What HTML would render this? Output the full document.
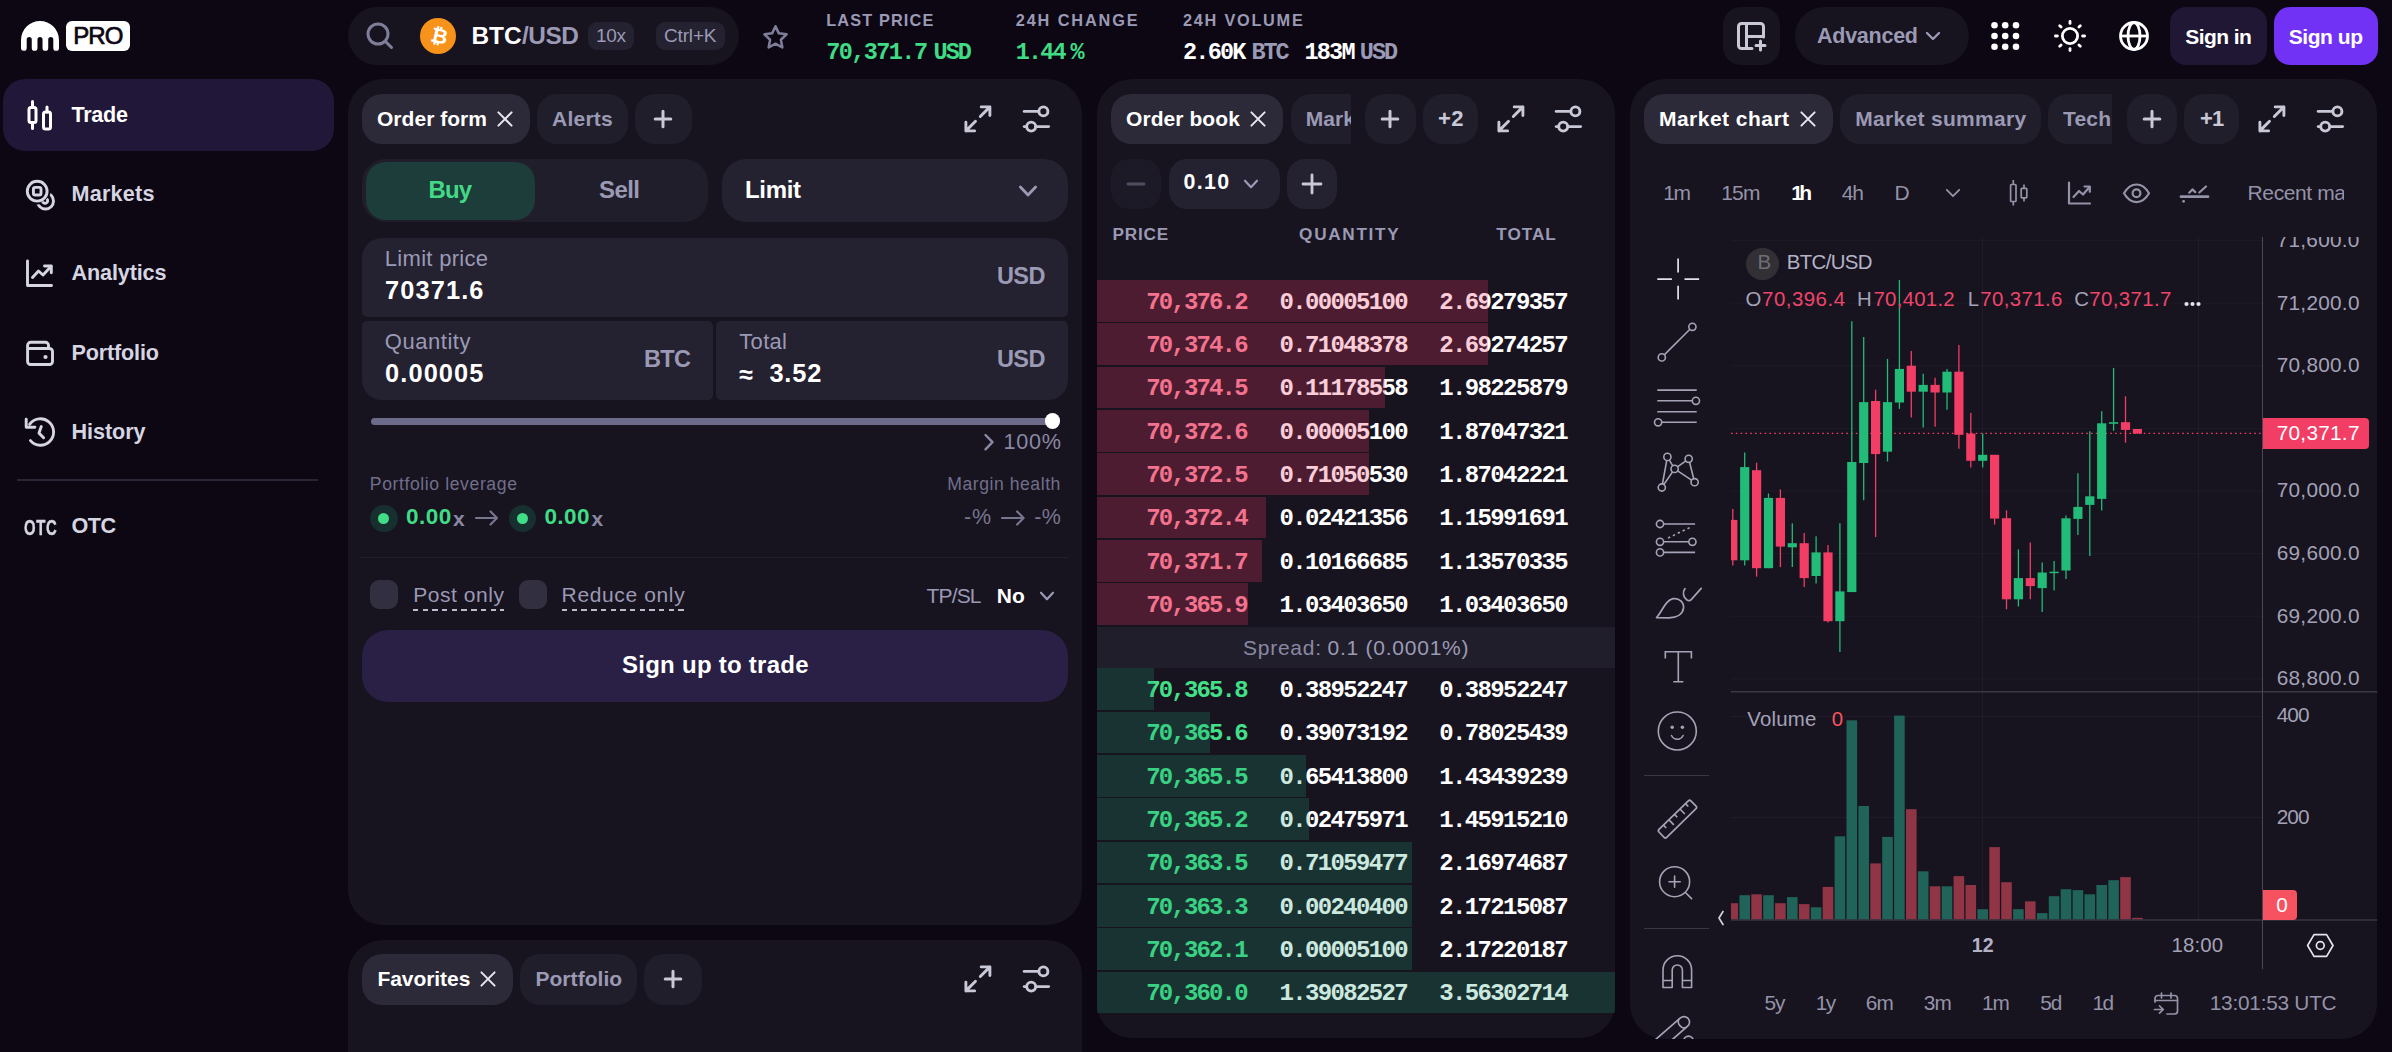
<!DOCTYPE html>
<html lang="en"><head><meta charset="utf-8"><title>Kraken Pro - BTC/USD</title><style>html,body{margin:0;padding:0;background:#0d0714;}
body{width:2392px;height:1052px;overflow:hidden;position:relative;font-family:"Liberation Sans",sans-serif;}
.t{position:absolute;white-space:pre;display:block;}
.b{position:absolute;display:block;}
</style></head><body>
<svg class="b" style="left:21.0px;top:21.0px;" width="38.0" height="30.0" viewBox="0 0 38 30" fill="none"><path d="M0 19A19 19 0 0 1 38 19V26.95a2.85 2.85 0 0 1 -5.70 0V18.43a2.53 2.53 0 0 0 -5.07 0V26.95a2.85 2.85 0 0 1 -5.70 0V18.43a2.53 2.53 0 0 0 -5.07 0V26.95a2.85 2.85 0 0 1 -5.70 0V18.43a2.53 2.53 0 0 0 -5.07 0V26.95a2.85 2.85 0 0 1 -5.70 0Z" fill="#fff"/></svg>
<div class="b" style="left:65.7px;top:21.0px;width:64.3px;height:29.7px;background:#fff;border-radius:6px;"></div>
<span class="t" style="left:73.3px;top:24.1px;font:400 24.00px/24.00px 'Liberation Sans',sans-serif;letter-spacing:-1.00px;color:#0d0714;-webkit-text-stroke:.7px #0d0714;">PRO</span>
<div class="b" style="left:3.0px;top:79.0px;width:330.5px;height:71.5px;background:#211738;border-radius:22px;"></div>
<span class="t" style="left:71.5px;top:104.3px;font:700 21.60px/21.60px 'Liberation Sans',sans-serif;letter-spacing:-0.28px;color:#fff;">Trade</span>
<span class="t" style="left:71.5px;top:183.3px;font:700 21.60px/21.60px 'Liberation Sans',sans-serif;letter-spacing:0.23px;color:#d6d5e2;">Markets</span>
<span class="t" style="left:71.5px;top:262.3px;font:700 21.60px/21.60px 'Liberation Sans',sans-serif;letter-spacing:-0.13px;color:#d6d5e2;">Analytics</span>
<span class="t" style="left:71.5px;top:342.3px;font:700 21.60px/21.60px 'Liberation Sans',sans-serif;letter-spacing:-0.16px;color:#d6d5e2;">Portfolio</span>
<span class="t" style="left:71.5px;top:421.3px;font:700 21.60px/21.60px 'Liberation Sans',sans-serif;letter-spacing:-0.07px;color:#d6d5e2;">History</span>
<span class="t" style="left:71.5px;top:515.3px;font:700 21.60px/21.60px 'Liberation Sans',sans-serif;letter-spacing:-0.55px;color:#d6d5e2;">OTC</span>
<div class="b" style="left:17.0px;top:479.0px;width:301.0px;height:1.5px;background:#2a2436;border-radius:0px;"></div>
<svg class="b" style="left:24.0px;top:96.0px;" width="32.0" height="38.0" viewBox="0 0 32 38" fill="none"><g stroke="#fff" stroke-width="3" stroke-linecap="round" stroke-linejoin="round">
<path d="M8.5 5.5v6M8.5 26.5v6"/><rect x="5" y="11.5" width="7" height="15" rx="2"/>
<path d="M23 11v5"/><rect x="19.5" y="16" width="7" height="17" rx="2"/></g></svg>
<svg class="b" style="left:24.0px;top:178.0px;" width="34.0" height="34.0" viewBox="0 0 34 34" fill="none"><defs><mask id="mk1"><rect width="34" height="34" fill="#fff"/><circle cx="13.2" cy="13.2" r="13.300" fill="#000"/></mask></defs>
<g stroke="#d6d5e2" stroke-width="2.900"><circle cx="13.2" cy="13.2" r="9.900"/><rect x="9.4" y="9.4" width="7.6" height="7.600" rx="1.800"/>
<g mask="url(#mk1)"><circle cx="21.500" cy="23" r="8"/></g><path d="M22.800 20.800a2.600 2.600 0 1 1-4.200 2.800"/></g></svg>
<svg class="b" style="left:24.0px;top:258.0px;" width="32.0" height="32.0" viewBox="0 0 32 32" fill="none"><g stroke="#d6d5e2" stroke-width="2.900" stroke-linecap="round" stroke-linejoin="round">
<path d="M3.500 3v24.500h24"/><path d="M8.500 19.500l6-6.500 4.500 4 8-8.500"/><path d="M20.500 8h6.800v6.800"/></g></svg>
<svg class="b" style="left:24.0px;top:337.0px;" width="32.0" height="32.0" viewBox="0 0 32 32" fill="none"><g stroke="#d6d5e2" stroke-width="2.900" stroke-linecap="round" stroke-linejoin="round">
<path d="M3.600 11.500H25.500a3 3 0 0 1 3 3V24.500a3 3 0 0 1-3 3H6.600a3 3 0 0 1-3-3V8.300a3 3 0 0 1 3-3H21.500a3 3 0 0 1 3 3V11.500"/></g><circle cx="21.500" cy="20" r="2.100" fill="#d6d5e2"/></svg>
<svg class="b" style="left:24.0px;top:416.0px;" width="32.0" height="32.0" viewBox="0 0 32 32" fill="none"><g stroke="#d6d5e2" stroke-width="2.900" stroke-linecap="round" stroke-linejoin="round">
<path d="M5.590 8.430A13.200 13.200 0 1 1 6.440 24.660"/><path d="M2.200 3.200V11.200H10.900"/><path d="M17.300 10.500L15 17.100l4.600 4.600"/></g></svg>
<span class="t" style="left:23.8px;top:516.8px;font:700 22.20px/22.20px 'Liberation Sans',sans-serif;letter-spacing:0.00px;color:#d6d5e2;transform:scaleX(.67);transform-origin:0 0;letter-spacing:1px;-webkit-text-stroke:.5px #d6d5e2;">OTC</span>
<div class="b" style="left:348.0px;top:7.0px;width:390.5px;height:58.0px;background:#17131f;border-radius:29px;"></div>
<svg class="b" style="left:365.0px;top:21.0px;" width="30.0" height="30.0" viewBox="0 0 30 30" fill="none"><g stroke="#7f7e99" stroke-width="3" stroke-linecap="round"><circle cx="13" cy="13" r="10"/><path d="M20.5 20.5l6 6"/></g></svg>
<div class="b" style="left:420.0px;top:18.0px;width:36.0px;height:36.0px;background:#f7931a;border-radius:50%;"></div>
<span class="t" style="left:431.3px;top:26.2px;font:700 20.50px/20.50px 'DejaVu Sans',sans-serif;letter-spacing:0.00px;color:#fff;transform:rotate(13deg);">₿</span>
<span class="t" style="left:471.5px;top:23.8px;font:700 24.40px/24.40px 'Liberation Sans',sans-serif;letter-spacing:0.00px;color:#fff;">BTC</span>
<span class="t" style="left:521.9px;top:23.8px;font:700 24.40px/24.40px 'Liberation Sans',sans-serif;letter-spacing:-0.41px;color:#9b9ab5;">/USD</span>
<div class="b" style="left:588.0px;top:22.0px;width:46.0px;height:28.0px;background:#242130;border-radius:9px;"></div>
<span class="t" style="left:596.0px;top:26.2px;font:400 19.00px/19.00px 'Liberation Sans',sans-serif;letter-spacing:-0.32px;color:#9b9ab5;">10x</span>
<div class="b" style="left:656.0px;top:22.0px;width:68.5px;height:28.0px;background:#242130;border-radius:9px;"></div>
<span class="t" style="left:664.0px;top:26.2px;font:400 19.00px/19.00px 'Liberation Sans',sans-serif;letter-spacing:-0.16px;color:#9b9ab5;">Ctrl+K</span>
<svg class="b" style="left:762.2px;top:23.8px;" width="27.0" height="25.2" viewBox="0 0 30 28" fill="none"><path d="M15 2.5l3.7 7.9 8.6 1.1-6.3 6 1.6 8.6L15 21.9l-7.6 4.2 1.6-8.6-6.3-6 8.6-1.1z" stroke="#7f7e99" stroke-width="2.8" stroke-linejoin="round"/></svg>
<span class="t" style="left:826.3px;top:11.6px;font:700 16.30px/16.30px 'Liberation Sans',sans-serif;letter-spacing:1.13px;color:#9b9ab5;">LAST PRICE</span>
<span class="t" style="left:826.3px;top:40.9px;font:700 23.50px/23.50px 'Liberation Mono',monospace;letter-spacing:-1.59px;color:#3fdc85;">70,371.7</span>
<span class="t" style="left:933.6px;top:40.9px;font:700 23.50px/23.50px 'Liberation Mono',monospace;letter-spacing:-2.05px;color:#3fdc85;">USD</span>
<span class="t" style="left:1015.7px;top:11.6px;font:700 16.30px/16.30px 'Liberation Sans',sans-serif;letter-spacing:1.89px;color:#9b9ab5;">24H CHANGE</span>
<span class="t" style="left:1015.7px;top:40.9px;font:700 23.50px/23.50px 'Liberation Mono',monospace;letter-spacing:-1.87px;color:#3fdc85;">1.44</span>
<span class="t" style="left:1070.5px;top:40.9px;font:700 23.50px/23.50px 'Liberation Mono',monospace;letter-spacing:0.00px;color:#3fdc85;">%</span>
<span class="t" style="left:1183.0px;top:11.6px;font:700 16.30px/16.30px 'Liberation Sans',sans-serif;letter-spacing:1.75px;color:#9b9ab5;">24H VOLUME</span>
<span class="t" style="left:1183.0px;top:40.9px;font:700 23.50px/23.50px 'Liberation Mono',monospace;letter-spacing:-1.78px;color:#fff;">2.60K</span>
<span class="t" style="left:1251.4px;top:40.9px;font:700 23.50px/23.50px 'Liberation Mono',monospace;letter-spacing:-2.05px;color:#9b9ab5;">BTC</span>
<span class="t" style="left:1304.6px;top:40.9px;font:700 23.50px/23.50px 'Liberation Mono',monospace;letter-spacing:-1.84px;color:#fff;">183M</span>
<span class="t" style="left:1359.8px;top:40.9px;font:700 23.50px/23.50px 'Liberation Mono',monospace;letter-spacing:-1.95px;color:#9b9ab5;">USD</span>
<div class="b" style="left:1723.0px;top:7.0px;width:57.0px;height:58.0px;background:#17131f;border-radius:18px;"></div>
<svg class="b" style="left:1736.0px;top:21.0px;" width="32.0" height="32.0" viewBox="0 0 32 32" fill="none"><g stroke="#c9c8d6" stroke-width="3" stroke-linecap="round" stroke-linejoin="round">
<path d="M16 27.5H5.5a3 3 0 0 1-3-3v-19a3 3 0 0 1 3-3h19a3 3 0 0 1 3 3V16"/><path d="M10.5 2.5v25M10.5 15.5h17"/><path d="M24.5 20v9M20 24.5h9"/></g></svg>
<div class="b" style="left:1795.0px;top:7.0px;width:174.0px;height:58.0px;background:#17131f;border-radius:29px;"></div>
<span class="t" style="left:1817.0px;top:25.7px;font:700 21.50px/21.50px 'Liberation Sans',sans-serif;letter-spacing:-0.25px;color:#9b9ab5;">Advanced</span>
<svg class="b" style="left:1924.0px;top:28.0px;" width="18.0" height="16.0" viewBox="0 0 18 16" fill="none"><path d="M3 5l6 6 6-6" stroke="#9b9ab5" stroke-width="2.4" stroke-linecap="round" stroke-linejoin="round"/></svg>
<svg class="b" style="left:0;top:0" width="2392" height="72" viewBox="0 0 2392 72"><circle cx="1994.5" cy="25.3" r="3.3" fill="#fff"/><circle cx="1994.5" cy="36" r="3.3" fill="#fff"/><circle cx="1994.5" cy="46.7" r="3.3" fill="#fff"/><circle cx="2005.2" cy="25.3" r="3.3" fill="#fff"/><circle cx="2005.2" cy="36" r="3.3" fill="#fff"/><circle cx="2005.2" cy="46.7" r="3.3" fill="#fff"/><circle cx="2016" cy="25.3" r="3.3" fill="#fff"/><circle cx="2016" cy="36" r="3.3" fill="#fff"/><circle cx="2016" cy="46.7" r="3.3" fill="#fff"/></svg>
<svg class="b" style="left:2054.0px;top:20.0px;" width="32.0" height="32.0" viewBox="0 0 32 32" fill="none"><g stroke="#fff" stroke-width="2.8" stroke-linecap="round"><circle cx="16" cy="16" r="7.6"/><path d="M28.60 16.00L30.60 16.00"/><path d="M24.91 24.91L26.32 26.32"/><path d="M16.00 28.60L16.00 30.60"/><path d="M7.09 24.91L5.68 26.32"/><path d="M3.40 16.00L1.40 16.00"/><path d="M7.09 7.09L5.68 5.68"/><path d="M16.00 3.40L16.00 1.40"/><path d="M24.91 7.09L26.32 5.68"/></g></svg>
<svg class="b" style="left:2118.0px;top:20.0px;" width="32.0" height="32.0" viewBox="0 0 32 32" fill="none"><g stroke="#fff" stroke-width="2.8"><circle cx="16" cy="16" r="13.5"/><path d="M2.5 16h27"/><ellipse cx="16" cy="16" rx="6" ry="13.5"/></g></svg>
<div class="b" style="left:2170.0px;top:7.0px;width:96.6px;height:58.0px;background:#1f1733;border-radius:16px;"></div>
<span class="t" style="left:2185.3px;top:25.5px;font:700 21.00px/21.00px 'Liberation Sans',sans-serif;letter-spacing:-0.58px;color:#fff;">Sign in</span>
<div class="b" style="left:2274.0px;top:7.0px;width:104.0px;height:58.0px;background:#7132f5;border-radius:16px;"></div>
<span class="t" style="left:2288.8px;top:25.5px;font:700 21.00px/21.00px 'Liberation Sans',sans-serif;letter-spacing:-0.46px;color:#fff;">Sign up</span>
<div class="b" style="left:348.0px;top:79.0px;width:734.2px;height:845.7px;background:#17131f;border-radius:35px;"></div>
<div class="b" style="left:361.7px;top:94.0px;width:168.5px;height:49.8px;background:#2c2938;border-radius:20px;"></div>
<span class="t" style="left:377.0px;top:108.3px;font:700 21.00px/21.00px 'Liberation Sans',sans-serif;letter-spacing:0.03px;color:#fff;">Order form</span>
<svg class="b" style="left:494.5px;top:109.2px;" width="20.0" height="20.0" viewBox="0 0 20 20" fill="none"><path d="M3.4 3.4L16.6 16.6M16.6 3.4L3.4 16.6" stroke="#e8e7f0" stroke-width="2" stroke-linecap="round"/></svg>
<div class="b" style="left:537.0px;top:94.0px;width:91.0px;height:49.8px;background:#211e2b;border-radius:20px;"></div>
<span class="t" style="left:552.0px;top:108.3px;font:700 21.00px/21.00px 'Liberation Sans',sans-serif;letter-spacing:0.24px;color:#9b9ab5;">Alerts</span>
<div class="b" style="left:634.7px;top:94.0px;width:57.3px;height:49.8px;background:#211e2b;border-radius:20px;"></div>
<svg class="b" style="left:651.4px;top:106.9px;" width="24.0" height="24.0" viewBox="0 0 24 24" fill="none"><path d="M4.2 12H19.8M12 4.2V19.8" stroke="#c9c8d6" stroke-width="3" stroke-linecap="round"/></svg>
<svg class="b" style="left:963.2px;top:104.0px;" width="30.0" height="30.0" viewBox="0 0 30 30" fill="none"><g stroke="#c9c8d6" stroke-width="2.900" stroke-linecap="round" stroke-linejoin="round">
<path d="M17.300 12.500L26.900 2.900M18.200 2.900H26.900V11.600"/><path d="M12.500 17.300L2.900 26.900M11.600 26.900H2.900V18.200"/></g></svg>
<svg class="b" style="left:1021.2px;top:104.0px;" width="30.0" height="30.0" viewBox="0 0 30 30" fill="none"><g stroke="#c9c8d6" stroke-width="2.900" stroke-linecap="round">
<path d="M3.200 7.400H17"/><circle cx="22.400" cy="7.400" r="4.500"/><path d="M27.600 22.600H15"/><circle cx="10.200" cy="22.600" r="4.500"/><path d="M3.200 22.600h2"/></g></svg>
<div class="b" style="left:361.7px;top:158.6px;width:346.3px;height:63.9px;background:#211e2b;border-radius:24px;"></div>
<div class="b" style="left:366.0px;top:161.8px;width:169.0px;height:57.8px;background:#1d3d3a;border-radius:20px;"></div>
<span class="t" style="left:428.6px;top:178.2px;font:700 24.00px/24.00px 'Liberation Sans',sans-serif;letter-spacing:-0.97px;color:#43d987;">Buy</span>
<span class="t" style="left:599.0px;top:178.2px;font:700 24.00px/24.00px 'Liberation Sans',sans-serif;letter-spacing:-0.56px;color:#9b9ab5;">Sell</span>
<div class="b" style="left:721.7px;top:158.6px;width:346.3px;height:63.9px;background:#242130;border-radius:24px;"></div>
<span class="t" style="left:745.0px;top:178.2px;font:700 24.00px/24.00px 'Liberation Sans',sans-serif;letter-spacing:-0.33px;color:#fff;">Limit</span>
<svg class="b" style="left:1016.0px;top:179.0px;" width="24.0" height="24.0" viewBox="0 0 24 24" fill="none"><path d="M4.4 8L12 16L19.6 8" stroke="#9b9ab5" stroke-width="2.8" stroke-linecap="round" stroke-linejoin="round"/></svg>
<div class="b" style="left:361.7px;top:238.0px;width:706.3px;height:79.0px;background:#242130;border-radius:20px 20px 5px 5px;"></div>
<span class="t" style="left:384.8px;top:247.9px;font:400 22.00px/22.00px 'Liberation Sans',sans-serif;letter-spacing:0.30px;color:#9b9ab5;">Limit price</span>
<span class="t" style="left:385.0px;top:278.2px;font:700 25.40px/25.40px 'Liberation Sans',sans-serif;letter-spacing:1.11px;color:#fff;">70371.6</span>
<span class="t" style="left:997.0px;top:264.5px;font:700 23.50px/23.50px 'Liberation Sans',sans-serif;letter-spacing:-0.61px;color:#9b9ab5;">USD</span>
<div class="b" style="left:361.7px;top:321.0px;width:351.3px;height:78.8px;background:#242130;border-radius:5px 5px 5px 20px;"></div>
<span class="t" style="left:384.8px;top:330.7px;font:400 22.00px/22.00px 'Liberation Sans',sans-serif;letter-spacing:0.54px;color:#9b9ab5;">Quantity</span>
<span class="t" style="left:385.0px;top:361.2px;font:700 25.40px/25.40px 'Liberation Sans',sans-serif;letter-spacing:1.11px;color:#fff;">0.00005</span>
<span class="t" style="left:644.0px;top:347.8px;font:700 23.50px/23.50px 'Liberation Sans',sans-serif;letter-spacing:-0.65px;color:#9b9ab5;">BTC</span>
<div class="b" style="left:716.4px;top:321.0px;width:351.6px;height:78.8px;background:#242130;border-radius:5px 5px 20px 5px;"></div>
<span class="t" style="left:739.3px;top:330.7px;font:400 22.00px/22.00px 'Liberation Sans',sans-serif;letter-spacing:0.31px;color:#9b9ab5;">Total</span>
<span class="t" style="left:739.3px;top:361.5px;font:700 25.00px/25.00px 'Liberation Sans',sans-serif;letter-spacing:0.00px;color:#fff;">≈</span>
<span class="t" style="left:769.4px;top:361.2px;font:700 25.40px/25.40px 'Liberation Sans',sans-serif;letter-spacing:0.82px;color:#fff;">3.52</span>
<span class="t" style="left:997.0px;top:347.8px;font:700 23.50px/23.50px 'Liberation Sans',sans-serif;letter-spacing:-0.61px;color:#9b9ab5;">USD</span>
<div class="b" style="left:370.5px;top:418.0px;width:685.5px;height:7.0px;background:#6c6b8a;border-radius:3.5px;"></div>
<div class="b" style="left:1044.6px;top:413.0px;width:15.8px;height:15.8px;background:#fff;border-radius:50%;"></div>
<svg class="b" style="left:980.0px;top:430.0px;" width="20.0" height="24.0" viewBox="0 0 20 24" fill="none"><path d="M5.5 5l7 7.2-7 7.2" stroke="#8a89a3" stroke-width="2.4" stroke-linecap="round" stroke-linejoin="round"/></svg>
<span class="t" style="left:1003.6px;top:431.2px;font:400 21.60px/21.60px 'Liberation Sans',sans-serif;letter-spacing:0.72px;color:#8a89a3;">100%</span>
<span class="t" style="left:369.8px;top:476.1px;font:400 17.60px/17.60px 'Liberation Sans',sans-serif;letter-spacing:0.60px;color:#706f8b;">Portfolio leverage</span>
<span class="t" style="left:947.2px;top:476.1px;font:400 17.60px/17.60px 'Liberation Sans',sans-serif;letter-spacing:0.55px;color:#706f8b;">Margin health</span>
<div class="b" style="left:370.0px;top:504.5px;width:27.6px;height:27.6px;background:#17302f;border-radius:50%;"></div>
<div class="b" style="left:378.1px;top:512.6px;width:11.4px;height:11.4px;background:#40dc86;border-radius:50%;"></div>
<span class="t" style="left:406.0px;top:506.4px;font:700 22.50px/22.50px 'Liberation Sans',sans-serif;letter-spacing:0.47px;color:#40dc86;">0.00</span>
<span class="t" style="left:453.0px;top:507.7px;font:700 21.00px/21.00px 'Liberation Sans',sans-serif;letter-spacing:0.00px;color:#8a89a3;">x</span>
<div class="b" style="left:508.9px;top:504.5px;width:27.6px;height:27.6px;background:#17302f;border-radius:50%;"></div>
<div class="b" style="left:517.0px;top:512.6px;width:11.4px;height:11.4px;background:#40dc86;border-radius:50%;"></div>
<span class="t" style="left:544.4px;top:506.4px;font:700 22.50px/22.50px 'Liberation Sans',sans-serif;letter-spacing:0.47px;color:#40dc86;">0.00</span>
<span class="t" style="left:591.4px;top:507.7px;font:700 21.00px/21.00px 'Liberation Sans',sans-serif;letter-spacing:0.00px;color:#8a89a3;">x</span>
<svg class="b" style="left:474.0px;top:508.3px;" width="25.0" height="20.0" viewBox="0 0 25 20" fill="none"><path d="M2 10H22.5 M16.5 3.5L23 10L16.5 16.5" stroke="#77768f" stroke-width="2.2" stroke-linecap="round" stroke-linejoin="round"/></svg>
<span class="t" style="left:964.0px;top:507.3px;font:400 21.50px/21.50px 'Liberation Sans',sans-serif;letter-spacing:0.72px;color:#77768f;">-%</span>
<svg class="b" style="left:1000.0px;top:508.3px;" width="25.6" height="20.0" viewBox="0 0 25.6 20" fill="none"><path d="M2 10H23.1 M17.1 3.5L23.6 10L17.1 16.5" stroke="#77768f" stroke-width="2.2" stroke-linecap="round" stroke-linejoin="round"/></svg>
<span class="t" style="left:1034.2px;top:507.3px;font:400 21.50px/21.50px 'Liberation Sans',sans-serif;letter-spacing:0.52px;color:#77768f;">-%</span>
<div class="b" style="left:360.0px;top:556.5px;width:708.0px;height:1.5px;background:#221e2c;border-radius:0px;"></div>
<div class="b" style="left:370.0px;top:580.0px;width:28.0px;height:28.6px;background:#322f40;border-radius:9px;"></div>
<span class="t" style="left:413.3px;top:583.7px;font:400 21.00px/21.00px 'Liberation Sans',sans-serif;letter-spacing:0.54px;color:#9b9ab5;">Post only</span>
<div class="b" style="left:519.0px;top:580.0px;width:28.0px;height:28.6px;background:#322f40;border-radius:9px;"></div>
<span class="t" style="left:561.6px;top:583.7px;font:400 21.00px/21.00px 'Liberation Sans',sans-serif;letter-spacing:0.63px;color:#9b9ab5;">Reduce only</span>
<div class="b" style="left:413px;top:608.6px;width:91px;height:2px;background:repeating-linear-gradient(90deg,#bdbccd 0 5.4px,transparent 5.4px 9.7px)"></div>
<div class="b" style="left:561.6px;top:608.6px;width:123px;height:2px;background:repeating-linear-gradient(90deg,#bdbccd 0 5.4px,transparent 5.4px 9.7px)"></div>
<span class="t" style="left:926.5px;top:584.8px;font:400 21.00px/21.00px 'Liberation Sans',sans-serif;letter-spacing:-0.84px;color:#9b9ab5;">TP/SL</span>
<span class="t" style="left:996.7px;top:584.8px;font:700 21.00px/21.00px 'Liberation Sans',sans-serif;letter-spacing:0.11px;color:#fff;">No</span>
<svg class="b" style="left:1034.6px;top:583.5px;" width="24.0" height="24.0" viewBox="0 0 24 24" fill="none"><path d="M6 8.7L12 15.3L18 8.7" stroke="#9b9ab5" stroke-width="2.2" stroke-linecap="round" stroke-linejoin="round"/></svg>
<div class="b" style="left:361.7px;top:630.0px;width:706.3px;height:71.8px;background:#2a1f45;border-radius:26px;"></div>
<span class="t" style="left:622.0px;top:653.4px;font:700 24.00px/24.00px 'Liberation Sans',sans-serif;letter-spacing:0.26px;color:#fff;">Sign up to trade</span>
<div class="b" style="left:348.0px;top:939.7px;width:734.2px;height:160.3px;background:#17131f;border-radius:35px;"></div>
<div class="b" style="left:361.6px;top:954.0px;width:151.6px;height:50.6px;background:#2c2938;border-radius:20px;"></div>
<span class="t" style="left:377.5px;top:968.3px;font:700 21.00px/21.00px 'Liberation Sans',sans-serif;letter-spacing:-0.07px;color:#fff;">Favorites</span>
<svg class="b" style="left:477.7px;top:969.2px;" width="20.0" height="20.0" viewBox="0 0 20 20" fill="none"><path d="M3.4 3.4L16.6 16.6M16.6 3.4L3.4 16.6" stroke="#e8e7f0" stroke-width="2" stroke-linecap="round"/></svg>
<div class="b" style="left:519.5px;top:954.0px;width:117.6px;height:50.6px;background:#211e2b;border-radius:20px;"></div>
<span class="t" style="left:535.4px;top:968.3px;font:700 21.00px/21.00px 'Liberation Sans',sans-serif;letter-spacing:0.06px;color:#9b9ab5;">Portfolio</span>
<div class="b" style="left:643.5px;top:954.0px;width:58.1px;height:50.6px;background:#211e2b;border-radius:20px;"></div>
<svg class="b" style="left:660.5px;top:967.3px;" width="24.0" height="24.0" viewBox="0 0 24 24" fill="none"><path d="M4.2 12H19.8M12 4.2V19.8" stroke="#c9c8d6" stroke-width="3" stroke-linecap="round"/></svg>
<svg class="b" style="left:963.2px;top:964.3px;" width="30.0" height="30.0" viewBox="0 0 30 30" fill="none"><g stroke="#c9c8d6" stroke-width="2.900" stroke-linecap="round" stroke-linejoin="round">
<path d="M17.300 12.500L26.900 2.900M18.200 2.900H26.900V11.600"/><path d="M12.500 17.300L2.900 26.900M11.600 26.900H2.900V18.200"/></g></svg>
<svg class="b" style="left:1021.2px;top:964.3px;" width="30.0" height="30.0" viewBox="0 0 30 30" fill="none"><g stroke="#c9c8d6" stroke-width="2.900" stroke-linecap="round">
<path d="M3.200 7.400H17"/><circle cx="22.400" cy="7.400" r="4.500"/><path d="M27.600 22.600H15"/><circle cx="10.200" cy="22.600" r="4.500"/><path d="M3.200 22.600h2"/></g></svg>
<div class="b" style="left:1097.0px;top:79.0px;width:517.6px;height:959.4px;background:#17131f;border-radius:35px;"></div>
<span class="t" style="left:1146.2px;top:290.7px;font:700 24.00px/24.00px 'Liberation Mono',monospace;letter-spacing:-1.83px;color:#f4869c;">70,376.2</span>
<span class="t" style="left:1279.6px;top:290.7px;font:700 24.00px/24.00px 'Liberation Mono',monospace;letter-spacing:-1.67px;color:#fff;">0.00005100</span>
<span class="t" style="left:1439.2px;top:290.7px;font:700 24.00px/24.00px 'Liberation Mono',monospace;letter-spacing:-1.62px;color:#fff;">2.69279357</span>
<div class="b" style="left:1097.0px;top:279.9px;width:391.3px;height:41.9px;background:rgba(240,55,98,.25);border-radius:0px;"></div>
<span class="t" style="left:1146.2px;top:334.0px;font:700 24.00px/24.00px 'Liberation Mono',monospace;letter-spacing:-1.83px;color:#f4869c;">70,374.6</span>
<span class="t" style="left:1279.6px;top:334.0px;font:700 24.00px/24.00px 'Liberation Mono',monospace;letter-spacing:-1.67px;color:#fff;">0.71048378</span>
<span class="t" style="left:1439.2px;top:334.0px;font:700 24.00px/24.00px 'Liberation Mono',monospace;letter-spacing:-1.62px;color:#fff;">2.69274257</span>
<div class="b" style="left:1097.0px;top:323.2px;width:391.3px;height:41.9px;background:rgba(240,55,98,.25);border-radius:0px;"></div>
<span class="t" style="left:1146.2px;top:377.4px;font:700 24.00px/24.00px 'Liberation Mono',monospace;letter-spacing:-1.83px;color:#f4869c;">70,374.5</span>
<span class="t" style="left:1279.6px;top:377.4px;font:700 24.00px/24.00px 'Liberation Mono',monospace;letter-spacing:-1.67px;color:#fff;">0.11178558</span>
<span class="t" style="left:1439.2px;top:377.4px;font:700 24.00px/24.00px 'Liberation Mono',monospace;letter-spacing:-1.62px;color:#fff;">1.98225879</span>
<div class="b" style="left:1097.0px;top:366.6px;width:288.4px;height:41.9px;background:rgba(240,55,98,.25);border-radius:0px;"></div>
<span class="t" style="left:1146.2px;top:420.7px;font:700 24.00px/24.00px 'Liberation Mono',monospace;letter-spacing:-1.83px;color:#f4869c;">70,372.6</span>
<span class="t" style="left:1279.6px;top:420.7px;font:700 24.00px/24.00px 'Liberation Mono',monospace;letter-spacing:-1.67px;color:#fff;">0.00005100</span>
<span class="t" style="left:1439.2px;top:420.7px;font:700 24.00px/24.00px 'Liberation Mono',monospace;letter-spacing:-1.62px;color:#fff;">1.87047321</span>
<div class="b" style="left:1097.0px;top:409.9px;width:271.8px;height:41.9px;background:rgba(240,55,98,.25);border-radius:0px;"></div>
<span class="t" style="left:1146.2px;top:464.0px;font:700 24.00px/24.00px 'Liberation Mono',monospace;letter-spacing:-1.83px;color:#f4869c;">70,372.5</span>
<span class="t" style="left:1279.6px;top:464.0px;font:700 24.00px/24.00px 'Liberation Mono',monospace;letter-spacing:-1.67px;color:#fff;">0.71050530</span>
<span class="t" style="left:1439.2px;top:464.0px;font:700 24.00px/24.00px 'Liberation Mono',monospace;letter-spacing:-1.62px;color:#fff;">1.87042221</span>
<div class="b" style="left:1097.0px;top:453.2px;width:271.8px;height:41.9px;background:rgba(240,55,98,.25);border-radius:0px;"></div>
<span class="t" style="left:1146.2px;top:507.4px;font:700 24.00px/24.00px 'Liberation Mono',monospace;letter-spacing:-1.83px;color:#f4869c;">70,372.4</span>
<span class="t" style="left:1279.6px;top:507.4px;font:700 24.00px/24.00px 'Liberation Mono',monospace;letter-spacing:-1.67px;color:#fff;">0.02421356</span>
<span class="t" style="left:1439.2px;top:507.4px;font:700 24.00px/24.00px 'Liberation Mono',monospace;letter-spacing:-1.62px;color:#fff;">1.15991691</span>
<div class="b" style="left:1097.0px;top:496.5px;width:168.5px;height:41.9px;background:rgba(240,55,98,.25);border-radius:0px;"></div>
<span class="t" style="left:1146.2px;top:550.7px;font:700 24.00px/24.00px 'Liberation Mono',monospace;letter-spacing:-1.83px;color:#f4869c;">70,371.7</span>
<span class="t" style="left:1279.6px;top:550.7px;font:700 24.00px/24.00px 'Liberation Mono',monospace;letter-spacing:-1.67px;color:#fff;">0.10166685</span>
<span class="t" style="left:1439.2px;top:550.7px;font:700 24.00px/24.00px 'Liberation Mono',monospace;letter-spacing:-1.62px;color:#fff;">1.13570335</span>
<div class="b" style="left:1097.0px;top:539.9px;width:164.9px;height:41.9px;background:rgba(240,55,98,.25);border-radius:0px;"></div>
<span class="t" style="left:1146.2px;top:594.0px;font:700 24.00px/24.00px 'Liberation Mono',monospace;letter-spacing:-1.83px;color:#f4869c;">70,365.9</span>
<span class="t" style="left:1279.6px;top:594.0px;font:700 24.00px/24.00px 'Liberation Mono',monospace;letter-spacing:-1.67px;color:#fff;">1.03403650</span>
<span class="t" style="left:1439.2px;top:594.0px;font:700 24.00px/24.00px 'Liberation Mono',monospace;letter-spacing:-1.62px;color:#fff;">1.03403650</span>
<div class="b" style="left:1097.0px;top:583.2px;width:150.5px;height:41.9px;background:rgba(240,55,98,.25);border-radius:0px;"></div>
<div class="b" style="left:1097.0px;top:626.6px;width:517.6px;height:41.6px;background:#211e2b;border-radius:0px;"></div>
<span class="t" style="left:1243.0px;top:636.5px;font:400 21.00px/21.00px 'Liberation Sans',sans-serif;letter-spacing:0.74px;color:#8a89a3;">Spread:</span>
<span class="t" style="left:1327.5px;top:636.5px;font:400 21.00px/21.00px 'Liberation Sans',sans-serif;letter-spacing:0.76px;color:#9b9ab5;">0.1 (0.0001%)</span>
<span class="t" style="left:1146.2px;top:679.0px;font:700 24.00px/24.00px 'Liberation Mono',monospace;letter-spacing:-1.83px;color:#43e08a;">70,365.8</span>
<span class="t" style="left:1279.6px;top:679.0px;font:700 24.00px/24.00px 'Liberation Mono',monospace;letter-spacing:-1.67px;color:#fff;">0.38952247</span>
<span class="t" style="left:1439.2px;top:679.0px;font:700 24.00px/24.00px 'Liberation Mono',monospace;letter-spacing:-1.62px;color:#fff;">0.38952247</span>
<div class="b" style="left:1097.0px;top:668.2px;width:56.9px;height:41.9px;background:rgba(30,160,112,.23);border-radius:0px;"></div>
<span class="t" style="left:1146.2px;top:722.4px;font:700 24.00px/24.00px 'Liberation Mono',monospace;letter-spacing:-1.83px;color:#43e08a;">70,365.6</span>
<span class="t" style="left:1279.6px;top:722.4px;font:700 24.00px/24.00px 'Liberation Mono',monospace;letter-spacing:-1.67px;color:#fff;">0.39073192</span>
<span class="t" style="left:1439.2px;top:722.4px;font:700 24.00px/24.00px 'Liberation Mono',monospace;letter-spacing:-1.62px;color:#fff;">0.78025439</span>
<div class="b" style="left:1097.0px;top:711.5px;width:113.3px;height:41.9px;background:rgba(30,160,112,.23);border-radius:0px;"></div>
<span class="t" style="left:1146.2px;top:765.7px;font:700 24.00px/24.00px 'Liberation Mono',monospace;letter-spacing:-1.83px;color:#43e08a;">70,365.5</span>
<span class="t" style="left:1279.6px;top:765.7px;font:700 24.00px/24.00px 'Liberation Mono',monospace;letter-spacing:-1.67px;color:#fff;">0.65413800</span>
<span class="t" style="left:1439.2px;top:765.7px;font:700 24.00px/24.00px 'Liberation Mono',monospace;letter-spacing:-1.62px;color:#fff;">1.43439239</span>
<div class="b" style="left:1097.0px;top:754.9px;width:208.6px;height:41.9px;background:rgba(30,160,112,.23);border-radius:0px;"></div>
<span class="t" style="left:1146.2px;top:809.0px;font:700 24.00px/24.00px 'Liberation Mono',monospace;letter-spacing:-1.83px;color:#43e08a;">70,365.2</span>
<span class="t" style="left:1279.6px;top:809.0px;font:700 24.00px/24.00px 'Liberation Mono',monospace;letter-spacing:-1.67px;color:#fff;">0.02475971</span>
<span class="t" style="left:1439.2px;top:809.0px;font:700 24.00px/24.00px 'Liberation Mono',monospace;letter-spacing:-1.62px;color:#fff;">1.45915210</span>
<div class="b" style="left:1097.0px;top:798.2px;width:211.9px;height:41.9px;background:rgba(30,160,112,.23);border-radius:0px;"></div>
<span class="t" style="left:1146.2px;top:852.3px;font:700 24.00px/24.00px 'Liberation Mono',monospace;letter-spacing:-1.83px;color:#43e08a;">70,363.5</span>
<span class="t" style="left:1279.6px;top:852.3px;font:700 24.00px/24.00px 'Liberation Mono',monospace;letter-spacing:-1.67px;color:#fff;">0.71059477</span>
<span class="t" style="left:1439.2px;top:852.3px;font:700 24.00px/24.00px 'Liberation Mono',monospace;letter-spacing:-1.62px;color:#fff;">2.16974687</span>
<div class="b" style="left:1097.0px;top:841.5px;width:315.4px;height:41.9px;background:rgba(30,160,112,.23);border-radius:0px;"></div>
<span class="t" style="left:1146.2px;top:895.7px;font:700 24.00px/24.00px 'Liberation Mono',monospace;letter-spacing:-1.83px;color:#43e08a;">70,363.3</span>
<span class="t" style="left:1279.6px;top:895.7px;font:700 24.00px/24.00px 'Liberation Mono',monospace;letter-spacing:-1.67px;color:#fff;">0.00240400</span>
<span class="t" style="left:1439.2px;top:895.7px;font:700 24.00px/24.00px 'Liberation Mono',monospace;letter-spacing:-1.62px;color:#fff;">2.17215087</span>
<div class="b" style="left:1097.0px;top:884.9px;width:315.4px;height:41.9px;background:rgba(30,160,112,.23);border-radius:0px;"></div>
<span class="t" style="left:1146.2px;top:939.0px;font:700 24.00px/24.00px 'Liberation Mono',monospace;letter-spacing:-1.83px;color:#43e08a;">70,362.1</span>
<span class="t" style="left:1279.6px;top:939.0px;font:700 24.00px/24.00px 'Liberation Mono',monospace;letter-spacing:-1.67px;color:#fff;">0.00005100</span>
<span class="t" style="left:1439.2px;top:939.0px;font:700 24.00px/24.00px 'Liberation Mono',monospace;letter-spacing:-1.62px;color:#fff;">2.17220187</span>
<div class="b" style="left:1097.0px;top:928.2px;width:315.4px;height:41.9px;background:rgba(30,160,112,.23);border-radius:0px;"></div>
<span class="t" style="left:1146.2px;top:982.3px;font:700 24.00px/24.00px 'Liberation Mono',monospace;letter-spacing:-1.83px;color:#43e08a;">70,360.0</span>
<span class="t" style="left:1279.6px;top:982.3px;font:700 24.00px/24.00px 'Liberation Mono',monospace;letter-spacing:-1.67px;color:#fff;">1.39082527</span>
<span class="t" style="left:1439.2px;top:982.3px;font:700 24.00px/24.00px 'Liberation Mono',monospace;letter-spacing:-1.62px;color:#fff;">3.56302714</span>
<div class="b" style="left:1097.0px;top:971.5px;width:517.6px;height:41.9px;background:rgba(30,160,112,.23);border-radius:0px;"></div>
<div class="b" style="left:1111.3px;top:94.0px;width:171.7px;height:49.8px;background:#2c2938;border-radius:20px;"></div>
<span class="t" style="left:1126.0px;top:108.3px;font:700 21.00px/21.00px 'Liberation Sans',sans-serif;letter-spacing:0.07px;color:#fff;">Order book</span>
<svg class="b" style="left:1247.8px;top:109.2px;" width="20.0" height="20.0" viewBox="0 0 20 20" fill="none"><path d="M3.4 3.4L16.6 16.6M16.6 3.4L3.4 16.6" stroke="#e8e7f0" stroke-width="2" stroke-linecap="round"/></svg>
<div class="b" style="left:1290.6px;top:94.0px;width:60.2px;height:49.8px;background:#211e2b;border-radius:20px 0 0 20px;"></div>
<span class="t" style="left:1305.8px;top:108.3px;font:700 21.00px/21.00px 'Liberation Sans',sans-serif;letter-spacing:0.00px;color:#9b9ab5;width:45px;overflow:hidden;">Mark</span>
<div class="b" style="left:1364.5px;top:94.0px;width:51.7px;height:49.8px;background:#211e2b;border-radius:20px;"></div>
<svg class="b" style="left:1378.3px;top:106.9px;" width="24.0" height="24.0" viewBox="0 0 24 24" fill="none"><path d="M4.2 12H19.8M12 4.2V19.8" stroke="#c9c8d6" stroke-width="3" stroke-linecap="round"/></svg>
<div class="b" style="left:1423.0px;top:94.0px;width:55.2px;height:49.8px;background:#211e2b;border-radius:20px;"></div>
<span class="t" style="left:1438.0px;top:107.7px;font:700 22.00px/22.00px 'Liberation Sans',sans-serif;letter-spacing:0.52px;color:#c9c8d6;">+2</span>
<svg class="b" style="left:1496.2px;top:104.0px;" width="30.0" height="30.0" viewBox="0 0 30 30" fill="none"><g stroke="#c9c8d6" stroke-width="2.900" stroke-linecap="round" stroke-linejoin="round">
<path d="M17.300 12.500L26.900 2.900M18.200 2.900H26.900V11.600"/><path d="M12.500 17.300L2.900 26.900M11.600 26.900H2.900V18.200"/></g></svg>
<svg class="b" style="left:1553.4px;top:104.0px;" width="30.0" height="30.0" viewBox="0 0 30 30" fill="none"><g stroke="#c9c8d6" stroke-width="2.900" stroke-linecap="round">
<path d="M3.200 7.400H17"/><circle cx="22.400" cy="7.400" r="4.500"/><path d="M27.600 22.600H15"/><circle cx="10.200" cy="22.600" r="4.500"/><path d="M3.200 22.600h2"/></g></svg>
<div class="b" style="left:1111.3px;top:159.4px;width:50.0px;height:49.4px;background:#1d1a27;border-radius:18px;"></div>
<svg class="b" style="left:1124.0px;top:172.0px;" width="24.0" height="24.0" viewBox="0 0 24 24" fill="none"><path d="M4 12h16" stroke="#4f4d62" stroke-width="2.8" stroke-linecap="round"/></svg>
<div class="b" style="left:1168.9px;top:159.4px;width:110.8px;height:49.4px;background:#242130;border-radius:18px;"></div>
<span class="t" style="left:1183.5px;top:172.3px;font:700 21.40px/21.40px 'Liberation Sans',sans-serif;letter-spacing:1.35px;color:#fff;">0.10</span>
<svg class="b" style="left:1238.7px;top:172.2px;" width="24.0" height="24.0" viewBox="0 0 24 24" fill="none"><path d="M6 8.7L12 15.3L18 8.7" stroke="#9b9ab5" stroke-width="2.2" stroke-linecap="round" stroke-linejoin="round"/></svg>
<div class="b" style="left:1287.3px;top:159.4px;width:49.5px;height:49.4px;background:#242130;border-radius:18px;"></div>
<svg class="b" style="left:1300.0px;top:172.0px;" width="24.0" height="24.0" viewBox="0 0 24 24" fill="none"><path d="M3 12H21M12 3V21" stroke="#c9c8d6" stroke-width="2.8" stroke-linecap="round"/></svg>
<span class="t" style="left:1112.4px;top:225.9px;font:700 17.20px/17.20px 'Liberation Sans',sans-serif;letter-spacing:0.83px;color:#9b9ab5;">PRICE</span>
<span class="t" style="left:1299.1px;top:225.9px;font:700 17.20px/17.20px 'Liberation Sans',sans-serif;letter-spacing:1.68px;color:#9b9ab5;">QUANTITY</span>
<span class="t" style="left:1496.3px;top:225.9px;font:700 17.20px/17.20px 'Liberation Sans',sans-serif;letter-spacing:0.97px;color:#9b9ab5;">TOTAL</span>
<div class="b" style="left:1630.0px;top:79.0px;width:747.3px;height:959.5px;background:#17131f;border-radius:35px;"></div>
<div class="b" style="left:1644.0px;top:94.0px;width:189.0px;height:49.8px;background:#2c2938;border-radius:20px;"></div>
<span class="t" style="left:1659.0px;top:108.3px;font:700 21.00px/21.00px 'Liberation Sans',sans-serif;letter-spacing:0.47px;color:#fff;">Market chart</span>
<svg class="b" style="left:1797.5px;top:109.2px;" width="20.0" height="20.0" viewBox="0 0 20 20" fill="none"><path d="M3.4 3.4L16.6 16.6M16.6 3.4L3.4 16.6" stroke="#e8e7f0" stroke-width="2" stroke-linecap="round"/></svg>
<div class="b" style="left:1839.7px;top:94.0px;width:201.6px;height:49.8px;background:#211e2b;border-radius:20px;"></div>
<span class="t" style="left:1855.3px;top:108.3px;font:700 21.00px/21.00px 'Liberation Sans',sans-serif;letter-spacing:0.31px;color:#9b9ab5;">Market summary</span>
<div class="b" style="left:2048.0px;top:94.0px;width:64.2px;height:49.8px;background:#211e2b;border-radius:20px 0 0 20px;"></div>
<span class="t" style="left:2063.0px;top:108.3px;font:700 21.00px/21.00px 'Liberation Sans',sans-serif;letter-spacing:0.18px;color:#9b9ab5;width:49px;overflow:hidden;">Tech</span>
<div class="b" style="left:2126.7px;top:94.0px;width:50.0px;height:49.8px;background:#211e2b;border-radius:20px;"></div>
<svg class="b" style="left:2139.7px;top:106.9px;" width="24.0" height="24.0" viewBox="0 0 24 24" fill="none"><path d="M4.2 12H19.8M12 4.2V19.8" stroke="#c9c8d6" stroke-width="3" stroke-linecap="round"/></svg>
<div class="b" style="left:2183.7px;top:94.0px;width:55.8px;height:49.8px;background:#211e2b;border-radius:20px;"></div>
<span class="t" style="left:2200.0px;top:107.5px;font:700 22.00px/22.00px 'Liberation Sans',sans-serif;letter-spacing:-0.88px;color:#c9c8d6;">+1</span>
<svg class="b" style="left:2257.3px;top:104.0px;" width="30.0" height="30.0" viewBox="0 0 30 30" fill="none"><g stroke="#c9c8d6" stroke-width="2.900" stroke-linecap="round" stroke-linejoin="round">
<path d="M17.300 12.500L26.900 2.900M18.200 2.900H26.900V11.600"/><path d="M12.500 17.300L2.900 26.900M11.600 26.900H2.900V18.200"/></g></svg>
<svg class="b" style="left:2315.0px;top:104.0px;" width="30.0" height="30.0" viewBox="0 0 30 30" fill="none"><g stroke="#c9c8d6" stroke-width="2.900" stroke-linecap="round">
<path d="M3.200 7.400H17"/><circle cx="22.400" cy="7.400" r="4.500"/><path d="M27.600 22.600H15"/><circle cx="10.200" cy="22.600" r="4.500"/><path d="M3.200 22.600h2"/></g></svg>
<span class="t" style="left:1663.3px;top:181.8px;font:400 21.00px/21.00px 'Liberation Sans',sans-serif;letter-spacing:-1.57px;color:#9493a8;">1m</span>
<span class="t" style="left:1721.3px;top:181.8px;font:400 21.00px/21.00px 'Liberation Sans',sans-serif;letter-spacing:-0.88px;color:#9493a8;">15m</span>
<span class="t" style="left:1791.3px;top:181.8px;font:700 21.00px/21.00px 'Liberation Sans',sans-serif;letter-spacing:-3.81px;color:#fff;">1h</span>
<span class="t" style="left:1841.7px;top:181.8px;font:400 21.00px/21.00px 'Liberation Sans',sans-serif;letter-spacing:-1.06px;color:#9493a8;">4h</span>
<span class="t" style="left:1894.4px;top:181.8px;font:400 21.00px/21.00px 'Liberation Sans',sans-serif;letter-spacing:0.00px;color:#9493a8;">D</span>
<svg class="b" style="left:1941.0px;top:181.4px;" width="24.0" height="24.0" viewBox="0 0 24 24" fill="none"><path d="M5.8 8.8L12 15.2L18.2 8.8" stroke="#9493a8" stroke-width="1.8" stroke-linecap="round" stroke-linejoin="round"/></svg>
<svg class="b" style="left:2006.0px;top:176.0px;" width="26.0" height="34.0" viewBox="0 0 26 34" fill="none"><g stroke="#9493a8" stroke-width="1.7"><path d="M7.3 4v4.5M7.3 25.5v4M18 8.5v3.8M18 21.8v3.8"/><rect x="4.6" y="8.5" width="5.4" height="17" rx=".8"/><rect x="15.2" y="12.3" width="5.6" height="9.5" rx=".8"/></g></svg>
<svg class="b" style="left:2066.0px;top:180.0px;" width="28.0" height="28.0" viewBox="0 0 28 28" fill="none"><g stroke="#9493a8" stroke-width="2.200" stroke-linejoin="round" stroke-linecap="round"><path d="M3 2.5V23.5H24"/><path d="M7.5 17l5.5-6 4 3.5 6.5-7.5"/><path d="M18.5 6.5h5.3v5.3"/></g></svg>
<svg class="b" style="left:2121.0px;top:181.0px;" width="32.0" height="26.0" viewBox="0 0 32 26" fill="none"><g stroke="#9493a8" stroke-width="2.200"><path d="M3 12.3C6.5 6.2 11 3.5 15.5 3.5S24.5 6.200 28 12.3C24.5 18.4 20 21.1 15.5 21.1S6.5 18.4 3 12.3z"/><circle cx="15.5" cy="12.3" r="3.9"/></g></svg>
<svg class="b" style="left:2178.0px;top:182.0px;" width="34.0" height="24.0" viewBox="0 0 34 24" fill="none"><g stroke="#9493a8" stroke-linecap="round" stroke-linejoin="round"><path d="M3 14.700H30" stroke-width="2.800"/><path d="M11.200 10.800l3.200-3.400 2.900 2.700M21.300 10.500l6.700-6" stroke-width="2.200"/></g><circle cx="5.600" cy="19.300" r="1.400" fill="#9493a8"/></svg>
<span class="t" style="left:2247.6px;top:181.5px;font:400 21.00px/21.00px 'Liberation Sans',sans-serif;letter-spacing:-0.39px;color:#9493a8;width:96.5px;overflow:hidden;">Recent ma</span>
<svg class="b" style="left:0;top:0" width="2392" height="1052" viewBox="0 0 2392 1052" fill="none"><path d="M1731 240.6H2262.5" stroke="#1f1b28" stroke-width="1"/><path d="M1731 303.2H2262.5" stroke="#1f1b28" stroke-width="1"/><path d="M1731 365.8H2262.5" stroke="#1f1b28" stroke-width="1"/><path d="M1731 428.4H2262.5" stroke="#1f1b28" stroke-width="1"/><path d="M1731 491.0H2262.5" stroke="#1f1b28" stroke-width="1"/><path d="M1731 553.6H2262.5" stroke="#1f1b28" stroke-width="1"/><path d="M1731 616.2H2262.5" stroke="#1f1b28" stroke-width="1"/><path d="M1731 678.8H2262.5" stroke="#1f1b28" stroke-width="1"/><path d="M1731 716.5H2262.5" stroke="#1f1b28" stroke-width="1"/><path d="M1731 817.5H2262.5" stroke="#1f1b28" stroke-width="1"/><path d="M1982.5 237V920" stroke="#1f1b28" stroke-width="1"/><path d="M2198.5 237V920" stroke="#1f1b28" stroke-width="1"/><clipPath id="cp"><rect x="1731" y="237" width="531.5" height="690"/></clipPath><path d="M1731 433.3H2262.5" stroke="#f23d65" stroke-width="1.2" stroke-dasharray="1.6 3.2"/><g clip-path="url(#cp)"><path d="M1732.8 508.9V565.4" stroke="#f23d65" stroke-width="1.3"/><rect x="1728.2" y="519.9" width="9.2" height="40.4" fill="#f23d65"/><path d="M1744.7 452.4V565.4" stroke="#22bb77" stroke-width="1.3"/><rect x="1740.1" y="467.1" width="9.2" height="93.2" fill="#22bb77"/><path d="M1756.6 462.7V576.7" stroke="#f23d65" stroke-width="1.3"/><rect x="1752.0" y="470.2" width="9.2" height="98.0" fill="#f23d65"/><path d="M1768.5 493.5V568.2" stroke="#22bb77" stroke-width="1.3"/><rect x="1763.9" y="497.9" width="9.2" height="70.3" fill="#22bb77"/><path d="M1780.4 489.4V567.1" stroke="#f23d65" stroke-width="1.3"/><rect x="1775.8" y="497.9" width="9.2" height="48.7" fill="#f23d65"/><path d="M1792.3 523.3V567.1" stroke="#22bb77" stroke-width="1.3"/><rect x="1787.7" y="543.2" width="9.2" height="4.1" fill="#22bb77"/><path d="M1804.2 532.9V587.0" stroke="#f23d65" stroke-width="1.3"/><rect x="1799.6" y="543.2" width="9.2" height="34.9" fill="#f23d65"/><path d="M1816.1 536.3V583.6" stroke="#22bb77" stroke-width="1.3"/><rect x="1811.5" y="552.4" width="9.2" height="23.6" fill="#22bb77"/><path d="M1828.0 544.9V622.6" stroke="#f23d65" stroke-width="1.3"/><rect x="1823.4" y="552.4" width="9.2" height="68.8" fill="#f23d65"/><path d="M1839.9 523.3V652.1" stroke="#22bb77" stroke-width="1.3"/><rect x="1835.3" y="591.4" width="9.2" height="29.8" fill="#22bb77"/><path d="M1851.8 321.2V592.1" stroke="#22bb77" stroke-width="1.3"/><rect x="1847.2" y="462.0" width="9.2" height="130.1" fill="#22bb77"/><path d="M1863.7 337.0V500.3" stroke="#22bb77" stroke-width="1.3"/><rect x="1859.1" y="402.1" width="9.2" height="60.9" fill="#22bb77"/><path d="M1875.6 389.7V537.0" stroke="#f23d65" stroke-width="1.3"/><rect x="1871.0" y="401.0" width="9.2" height="53.1" fill="#f23d65"/><path d="M1887.5 358.9V461.5" stroke="#22bb77" stroke-width="1.3"/><rect x="1882.9" y="402.1" width="9.2" height="49.6" fill="#22bb77"/><path d="M1899.4 279.9V408.9" stroke="#22bb77" stroke-width="1.3"/><rect x="1894.8" y="368.9" width="9.2" height="33.6" fill="#22bb77"/><path d="M1911.3 351.0V417.6" stroke="#f23d65" stroke-width="1.3"/><rect x="1906.7" y="365.7" width="9.2" height="26.0" fill="#f23d65"/><path d="M1923.2 373.7V427.6" stroke="#22bb77" stroke-width="1.3"/><rect x="1918.6" y="384.9" width="9.2" height="6.8" fill="#22bb77"/><path d="M1935.1 377.7V426.8" stroke="#f23d65" stroke-width="1.3"/><rect x="1930.5" y="384.9" width="9.2" height="7.6" fill="#f23d65"/><path d="M1947.0 368.9V409.7" stroke="#22bb77" stroke-width="1.3"/><rect x="1942.4" y="371.7" width="9.2" height="20.8" fill="#22bb77"/><path d="M1958.9 345.0V448.8" stroke="#f23d65" stroke-width="1.3"/><rect x="1954.3" y="371.7" width="9.2" height="63.1" fill="#f23d65"/><path d="M1970.8 412.9V467.5" stroke="#f23d65" stroke-width="1.3"/><rect x="1966.2" y="433.6" width="9.2" height="27.2" fill="#f23d65"/><path d="M1982.7 433.6V467.5" stroke="#22bb77" stroke-width="1.3"/><rect x="1978.1" y="454.8" width="9.2" height="6.0" fill="#22bb77"/><path d="M1994.6 454.8V524.6" stroke="#f23d65" stroke-width="1.3"/><rect x="1990.0" y="454.8" width="9.2" height="63.8" fill="#f23d65"/><path d="M2006.5 510.3V609.3" stroke="#f23d65" stroke-width="1.3"/><rect x="2001.9" y="518.2" width="9.2" height="81.1" fill="#f23d65"/><path d="M2018.4 549.4V606.5" stroke="#22bb77" stroke-width="1.3"/><rect x="2013.8" y="578.1" width="9.2" height="21.2" fill="#22bb77"/><path d="M2030.3 542.6V599.3" stroke="#f23d65" stroke-width="1.3"/><rect x="2025.7" y="578.1" width="9.2" height="8.0" fill="#f23d65"/><path d="M2042.2 562.6V612.1" stroke="#22bb77" stroke-width="1.3"/><rect x="2037.6" y="572.5" width="9.2" height="15.6" fill="#22bb77"/><path d="M2054.1 561.1V590.5" stroke="#22bb77" stroke-width="1.3"/><rect x="2049.5" y="571.7" width="9.2" height="1.5" fill="#22bb77"/><path d="M2066.0 515.5V579.1" stroke="#22bb77" stroke-width="1.3"/><rect x="2061.4" y="518.3" width="9.2" height="52.2" fill="#22bb77"/><path d="M2077.9 473.2V534.9" stroke="#22bb77" stroke-width="1.3"/><rect x="2073.3" y="506.9" width="9.2" height="12.0" fill="#22bb77"/><path d="M2089.8 431.3V556.0" stroke="#22bb77" stroke-width="1.3"/><rect x="2085.2" y="496.3" width="9.2" height="8.6" fill="#22bb77"/><path d="M2101.7 411.3V510.6" stroke="#22bb77" stroke-width="1.3"/><rect x="2097.1" y="423.3" width="9.2" height="75.6" fill="#22bb77"/><path d="M2113.6 368.0V430.7" stroke="#22bb77" stroke-width="1.3"/><rect x="2109.0" y="422.2" width="9.2" height="1.6" fill="#22bb77"/><path d="M2125.5 396.2V442.7" stroke="#f23d65" stroke-width="1.3"/><rect x="2120.9" y="422.2" width="9.2" height="7.7" fill="#f23d65"/><path d="M2137.4 429.0V433.6" stroke="#f23d65" stroke-width="1.3"/><rect x="2132.8" y="429.0" width="9.2" height="4.6" fill="#f23d65"/></g><g clip-path="url(#cp)"><rect x="1727.5" y="903.2" width="10.6" height="16.1" fill="#8f3546"/><rect x="1739.4" y="895.2" width="10.6" height="24.1" fill="#206359"/><rect x="1751.3" y="894.3" width="10.6" height="25.0" fill="#8f3546"/><rect x="1763.2" y="895.2" width="10.6" height="24.1" fill="#206359"/><rect x="1775.1" y="903.2" width="10.6" height="16.1" fill="#8f3546"/><rect x="1787.0" y="897.1" width="10.6" height="22.2" fill="#206359"/><rect x="1798.9" y="904.1" width="10.6" height="15.2" fill="#8f3546"/><rect x="1810.8" y="907.3" width="10.6" height="12.0" fill="#206359"/><rect x="1822.7" y="886.9" width="10.6" height="32.4" fill="#8f3546"/><rect x="1834.6" y="836.3" width="10.6" height="83.0" fill="#206359"/><rect x="1846.5" y="720.3" width="10.6" height="199.0" fill="#206359"/><rect x="1858.4" y="806.0" width="10.6" height="113.3" fill="#206359"/><rect x="1870.3" y="863.4" width="10.6" height="55.9" fill="#8f3546"/><rect x="1882.2" y="836.9" width="10.6" height="82.4" fill="#206359"/><rect x="1894.1" y="715.6" width="10.6" height="203.7" fill="#206359"/><rect x="1906.0" y="809.2" width="10.6" height="110.1" fill="#8f3546"/><rect x="1917.9" y="871.3" width="10.6" height="48.0" fill="#206359"/><rect x="1929.8" y="886.3" width="10.6" height="33.0" fill="#8f3546"/><rect x="1941.7" y="886.3" width="10.6" height="33.0" fill="#206359"/><rect x="1953.6" y="876.1" width="10.6" height="43.2" fill="#8f3546"/><rect x="1965.5" y="885.0" width="10.6" height="34.3" fill="#8f3546"/><rect x="1977.4" y="909.2" width="10.6" height="10.1" fill="#206359"/><rect x="1989.3" y="847.1" width="10.6" height="72.2" fill="#8f3546"/><rect x="2001.2" y="882.2" width="10.6" height="37.1" fill="#8f3546"/><rect x="2013.1" y="909.2" width="10.6" height="10.1" fill="#206359"/><rect x="2025.0" y="901.3" width="10.6" height="18.0" fill="#8f3546"/><rect x="2036.9" y="913.1" width="10.6" height="6.2" fill="#206359"/><rect x="2048.8" y="896.2" width="10.6" height="23.1" fill="#206359"/><rect x="2060.7" y="889.2" width="10.6" height="30.1" fill="#206359"/><rect x="2072.6" y="890.1" width="10.6" height="29.2" fill="#206359"/><rect x="2084.5" y="894.3" width="10.6" height="25.0" fill="#206359"/><rect x="2096.4" y="885.0" width="10.6" height="34.3" fill="#206359"/><rect x="2108.3" y="880.2" width="10.6" height="39.1" fill="#206359"/><rect x="2120.2" y="877.1" width="10.6" height="42.2" fill="#8f3546"/><rect x="2132.1" y="917.8" width="10.6" height="1.5" fill="#8f3546"/></g><path d="M1731 691.7H2377.3" stroke="#3b3846" stroke-width="1.6"/><path d="M1731 920H2377.3" stroke="#4b4956" stroke-width="1"/><path d="M2262.5 237V969" stroke="#4b4956" stroke-width="1"/></svg>
<div class="b" style="left:1746.2px;top:247.6px;width:32.4px;height:32.4px;background:#323034;border-radius:50%;"></div>
<span class="t" style="left:1757.5px;top:251.8px;font:400 20.50px/20.50px 'Liberation Sans',sans-serif;letter-spacing:0.00px;color:#6f6e77;">B</span>
<span class="t" style="left:1786.8px;top:252.0px;font:400 20.40px/20.40px 'Liberation Sans',sans-serif;letter-spacing:-0.64px;color:#b4b3c6;">BTC/USD</span>
<span class="t" style="left:1745.4px;top:288.7px;font:400 20.40px/20.40px 'Liberation Sans',sans-serif;letter-spacing:0.00px;color:#a3a2b6;">O</span>
<span class="t" style="left:1762.1px;top:288.7px;font:400 20.40px/20.40px 'Liberation Sans',sans-serif;letter-spacing:0.50px;color:#f0456a;">70,396.4</span>
<span class="t" style="left:1857.0px;top:288.7px;font:400 20.40px/20.40px 'Liberation Sans',sans-serif;letter-spacing:0.00px;color:#a3a2b6;">H</span>
<span class="t" style="left:1873.5px;top:288.7px;font:400 20.40px/20.40px 'Liberation Sans',sans-serif;letter-spacing:0.26px;color:#f0456a;">70,401.2</span>
<span class="t" style="left:1967.8px;top:288.7px;font:400 20.40px/20.40px 'Liberation Sans',sans-serif;letter-spacing:0.00px;color:#a3a2b6;">L</span>
<span class="t" style="left:1980.2px;top:288.7px;font:400 20.40px/20.40px 'Liberation Sans',sans-serif;letter-spacing:0.41px;color:#f0456a;">70,371.6</span>
<span class="t" style="left:2074.2px;top:288.7px;font:400 20.40px/20.40px 'Liberation Sans',sans-serif;letter-spacing:0.00px;color:#a3a2b6;">C</span>
<span class="t" style="left:2089.2px;top:288.7px;font:400 20.40px/20.40px 'Liberation Sans',sans-serif;letter-spacing:0.41px;color:#f0456a;">70,371.7</span>
<svg class="b" style="left:2183.5px;top:301.2px;" width="18.0" height="6.0" viewBox="0 0 18 6" fill="none"><circle cx="2.5" cy="3" r="2.1" fill="#e4e3ee"/><circle cx="8.5" cy="3" r="2.1" fill="#e4e3ee"/><circle cx="14.5" cy="3" r="2.1" fill="#e4e3ee"/></svg>
<div class="b" style="left:2263px;top:237px;width:114px;height:40px;overflow:hidden">
<span class="t" style="left:13.7px;top:-7.4px;font:400 20.8px/20.8px 'Liberation Sans',sans-serif;letter-spacing:.25px;color:#a3a2b6">71,600.0</span></div>
<span class="t" style="left:2276.7px;top:292.6px;font:400 20.80px/20.80px 'Liberation Sans',sans-serif;letter-spacing:0.26px;color:#a3a2b6;">71,200.0</span>
<span class="t" style="left:2276.7px;top:355.2px;font:400 20.80px/20.80px 'Liberation Sans',sans-serif;letter-spacing:0.26px;color:#a3a2b6;">70,800.0</span>
<span class="t" style="left:2276.7px;top:480.4px;font:400 20.80px/20.80px 'Liberation Sans',sans-serif;letter-spacing:0.26px;color:#a3a2b6;">70,000.0</span>
<span class="t" style="left:2276.7px;top:543.0px;font:400 20.80px/20.80px 'Liberation Sans',sans-serif;letter-spacing:0.26px;color:#a3a2b6;">69,600.0</span>
<span class="t" style="left:2276.7px;top:605.6px;font:400 20.80px/20.80px 'Liberation Sans',sans-serif;letter-spacing:0.26px;color:#a3a2b6;">69,200.0</span>
<span class="t" style="left:2276.7px;top:668.2px;font:400 20.80px/20.80px 'Liberation Sans',sans-serif;letter-spacing:0.26px;color:#a3a2b6;">68,800.0</span>
<div class="b" style="left:2262.5px;top:418.2px;width:106.6px;height:30.6px;background:#f23d65;border-radius:0 4px 4px 0;"></div>
<span class="t" style="left:2276.7px;top:422.5px;font:400 20.80px/20.80px 'Liberation Sans',sans-serif;letter-spacing:0.26px;color:#fff;">70,371.7</span>
<span class="t" style="left:1747.2px;top:709.2px;font:400 20.40px/20.40px 'Liberation Sans',sans-serif;letter-spacing:0.23px;color:#a3a2b6;">Volume</span>
<span class="t" style="left:1831.7px;top:709.2px;font:400 20.40px/20.40px 'Liberation Sans',sans-serif;letter-spacing:0.00px;color:#f7525f;">0</span>
<span class="t" style="left:2276.7px;top:705.4px;font:400 20.80px/20.80px 'Liberation Sans',sans-serif;letter-spacing:-0.95px;color:#a3a2b6;">400</span>
<span class="t" style="left:2276.7px;top:806.6px;font:400 20.80px/20.80px 'Liberation Sans',sans-serif;letter-spacing:-0.95px;color:#a3a2b6;">200</span>
<div class="b" style="left:2262.5px;top:890.4px;width:34.3px;height:29.6px;background:#f7525f;border-radius:0 4px 4px 0;"></div>
<span class="t" style="left:2276.2px;top:894.7px;font:400 20.80px/20.80px 'Liberation Sans',sans-serif;letter-spacing:0.00px;color:#fff;">0</span>
<span class="t" style="left:1971.8px;top:935.7px;font:700 19.60px/19.60px 'Liberation Sans',sans-serif;letter-spacing:-0.00px;color:#b4b3c6;">12</span>
<span class="t" style="left:2171.6px;top:935.1px;font:400 20.40px/20.40px 'Liberation Sans',sans-serif;letter-spacing:0.14px;color:#a3a2b6;">18:00</span>
<svg class="b" style="left:2304.0px;top:930.0px;" width="34.0" height="32.0" viewBox="0 0 34 32" fill="none"><g stroke="#e4e3ee" stroke-width="1.7" stroke-linejoin="round"><path d="M3.6 15.5L10 4.6h12.6L29 15.5 22.600 26.4H10z"/><circle cx="16.300" cy="15.500" r="3.900"/></g></svg>
<svg class="b" style="left:1714.0px;top:908.0px;" width="14.0" height="20.0" viewBox="0 0 14 20" fill="none"><path d="M9 3.500L5 10l4 6.500" stroke="#d0cfdc" stroke-width="1.7" stroke-linecap="round" stroke-linejoin="round"/></svg>
<span class="t" style="left:1764.4px;top:992.6px;font:400 20.80px/20.80px 'Liberation Sans',sans-serif;letter-spacing:-0.87px;color:#9493a8;">5y</span>
<span class="t" style="left:1815.7px;top:992.6px;font:400 20.80px/20.80px 'Liberation Sans',sans-serif;letter-spacing:-1.57px;color:#9493a8;">1y</span>
<span class="t" style="left:1865.7px;top:992.6px;font:400 20.80px/20.80px 'Liberation Sans',sans-serif;letter-spacing:-0.79px;color:#9493a8;">6m</span>
<span class="t" style="left:1923.7px;top:992.6px;font:400 20.80px/20.80px 'Liberation Sans',sans-serif;letter-spacing:-0.79px;color:#9493a8;">3m</span>
<span class="t" style="left:1982.0px;top:992.6px;font:400 20.80px/20.80px 'Liberation Sans',sans-serif;letter-spacing:-1.19px;color:#9493a8;">1m</span>
<span class="t" style="left:2040.3px;top:992.6px;font:400 20.80px/20.80px 'Liberation Sans',sans-serif;letter-spacing:-1.14px;color:#9493a8;">5d</span>
<span class="t" style="left:2092.6px;top:992.6px;font:400 20.80px/20.80px 'Liberation Sans',sans-serif;letter-spacing:-1.54px;color:#9493a8;">1d</span>
<svg class="b" style="left:2152.0px;top:990.0px;" width="30.0" height="28.0" viewBox="0 0 30 28" fill="none"><g stroke="#9493a8" stroke-width="1.7" stroke-linecap="round" stroke-linejoin="round"><path d="M3 12V8.500a3 3 0 0 1 3-3h16.500a3 3 0 0 1 3 3V21a3 3 0 0 1-3 3H15"/><path d="M3.500 10.500h22M9.500 3v5M19 3v5"/><path d="M2.500 19.500h8.500M7.500 15.800l3.800 3.700-3.800 3.700"/></g></svg>
<span class="t" style="left:2209.8px;top:992.6px;font:400 20.80px/20.80px 'Liberation Sans',sans-serif;letter-spacing:-0.24px;color:#9493a8;">13:01:53 UTC</span>
<svg class="b" style="left:0;top:0" width="2392" height="1038.500" viewBox="0 0 2392 1038.500" fill="none"><path d="M1657.3 279.1H1671.9M1684.5 279.1H1699.1M1678.1 258.6V272.5M1678.1 285.8V299.6" stroke="#e2e1ea" stroke-width="1.7"/><g stroke="#a5a4b6" stroke-width="1.6"><path d="M1661.8 357.400L1692.4 326.8"/><circle cx="1692.4" cy="326.8" r="3.6" fill="#17131f"/><circle cx="1661.8" cy="357.4" r="3.6" fill="#17131f"/></g><g stroke="#a5a4b6" stroke-width="1.6"><path d="M1657.3 390.100H1696.7M1657.3 400.8H1696.7M1657.3 411.7H1696.7M1657.3 422.300H1696.7"/><circle cx="1695.9" cy="400.8" r="3.6" fill="#17131f"/><circle cx="1658.1" cy="422.3" r="3.6" fill="#17131f"/></g><g stroke="#a5a4b6" stroke-width="1.6" stroke-linejoin="round"><path d="M1661.8 487.5L1667.4 456.9L1674.6 468.9L1688.7 458.8L1694.6 482.2L1674.6 468.9L1661.8 487.5"/><circle cx="1661.8" cy="487.5" r="3.6" fill="#17131f"/><circle cx="1667.4" cy="456.9" r="3.6" fill="#17131f"/><circle cx="1674.6" cy="468.9" r="3.6" fill="#17131f"/><circle cx="1688.7" cy="458.8" r="3.6" fill="#17131f"/><circle cx="1694.6" cy="482.2" r="3.6" fill="#17131f"/></g><g stroke="#a5a4b6" stroke-width="1.6"><path d="M1663.4 524H1695.1M1663.4 541.8H1689M1663.4 552.4H1695.1"/><path d="M1668 538L1692 526.500" stroke-dasharray="2.4 3"/><circle cx="1660.0" cy="524.0" r="3.6" fill="#17131f"/><circle cx="1660.0" cy="541.8" r="3.6" fill="#17131f"/><circle cx="1692.4" cy="541.8" r="3.6" fill="#17131f"/><circle cx="1660.0" cy="552.4" r="3.6" fill="#17131f"/></g><g stroke="#a5a4b6" stroke-width="1.700" stroke-linejoin="round" stroke-linecap="round"><path d="M1656.500 617.600C1662.500 611 1665 600.500 1673 598.700C1679.200 597.600 1684.200 602.500 1683.500 608.200C1682.600 614.600 1676.500 617.800 1669 617.800Z"/><path d="M1685 588.600C1682.400 592 1683 597.500 1687 599.900C1688.600 600.900 1690 600.700 1691.200 599.600L1701.200 588.400"/></g><path d="M1665.300 658.500V651.700H1691.400V658.500M1678.300 651.700V681.800M1673.300 681.800H1683.300" stroke="#a5a4b6" stroke-width="1.6"/><g stroke="#a5a4b6" stroke-width="1.6"><circle cx="1677.300" cy="731" r="19"/><path d="M1671.500 735.500a6.400 6.400 0 0 0 11.600 0" stroke-linecap="round"/></g><circle cx="1672.200" cy="727.200" r="1.700" fill="#a5a4b6"/><circle cx="1682.400" cy="727.200" r="1.700" fill="#a5a4b6"/><path d="M1644 775.500H1709M1644 928.500H1709" stroke="#3a3745" stroke-width="1.2"/><g transform="translate(1677.500 819.100) rotate(-44.300)" stroke="#a5a4b6" stroke-width="1.700" stroke-linejoin="round"><rect x="-22.300" y="-5.500" width="44.600" height="11" rx="1.800"/><path d="M-14.300 -5.500v4M-6.600 -5.500v7M1.100 -5.500v4M8.800 -5.500v7M16.500 -5.500v4"/></g><g stroke="#a5a4b6" stroke-width="1.600" stroke-linecap="round"><circle cx="1674.600" cy="881.700" r="15"/><path d="M1685.400 892.500L1691.600 898.600M1669 881.700H1680.200M1674.600 876.100V887.300"/></g><g stroke="#a5a4b6" stroke-width="1.600" stroke-linejoin="round"><path d="M1663 987.500V970a14.300 14.300 0 0 1 28.600 0V987.500H1682.400V970a5.100 5.100 0 0 0-10.200 0V987.500z"/><path d="M1663 980.500H1672.200M1682.400 980.500H1691.600"/></g><g transform="translate(1679.500 1026) rotate(-41)" stroke="#a5a4b6" stroke-width="1.700" stroke-linejoin="round"><path d="M-30 -5.500H6a5.500 5.500 0 0 1 0 11H-30"/><path d="M4.500 -5.500a4 5.500 0 0 0 0 11"/></g><circle cx="1688.500" cy="1041" r="4.800" stroke="#a5a4b6" stroke-width="1.700"/></svg>
</body></html>
